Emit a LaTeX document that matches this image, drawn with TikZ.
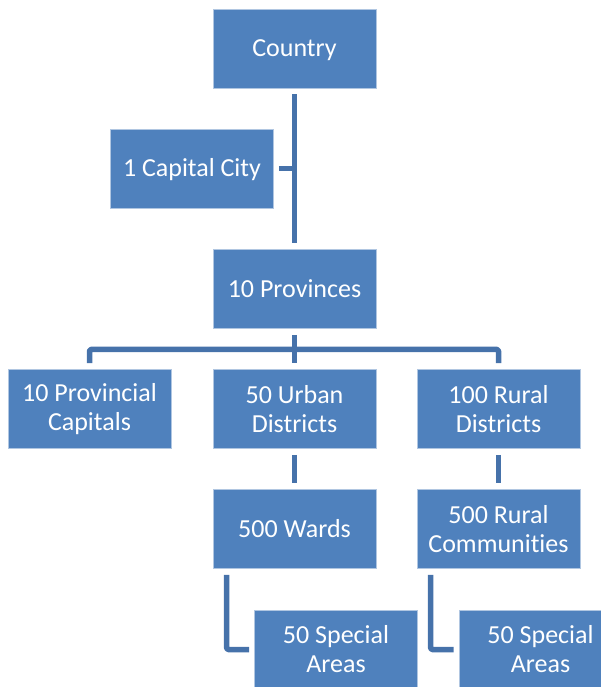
\documentclass[tikz,border=0pt]{standalone}
\usepackage{fontspec}
\setmainfont[Ligatures=CommonOff]{Carlito}
\usetikzlibrary{calc}
\definecolor{boxblue}{HTML}{4F81BD}
\definecolor{linkblue}{HTML}{4672AA}
\tikzset{
  unit/.style={draw=white!55!boxblue, line width=0.8pt, fill=boxblue,
    minimum width=163pt, minimum height=79pt, inner sep=0pt,
    text=white, align=center, font=\fontsize{26}{29}\selectfont},
  oneline/.style={text height=16.5pt, text depth=0pt},
  link/.style={draw=linkblue, line width=5.5pt, line join=round, rounded corners=1.5pt}
}
\begin{document}
\begin{tikzpicture}[x=1pt,y=-1pt]
  \useasboundingbox (0,0) rectangle (601,687);
  \clip (0,0) rectangle (601,687);
  % boxes
  \node[unit,oneline] (country)   at (294.5,48.5)  {Country};
  \node[unit,oneline] (capital)   at (192,168.5)   {1 Capital City};
  \node[unit,oneline] (provinces) at (294.5,289)   {10 Provinces};
  \node[unit] (provcap)   at (89.5,409)    {10 Provincial\\Capitals};
  \node[unit] (urban)     at (294.5,409)   {50 Urban\\Districts};
  \node[unit] (rural)     at (498.5,409)   {100 Rural\\Districts};
  \node[unit,oneline] (wards)     at (294.5,529)   {500 Wards};
  \node[unit] (ruralcom)  at (498.5,529)   {500 Rural\\Communities};
  \node[unit] (specA)     at (336,649.5)   {50 Special\\Areas};
  \node[unit] (specB)     at (540.5,649.5) {50 Special\\Areas};
  % connectors
  \draw[link] ($(country.south)+(0,6)$) -- ($(provinces.north)+(0,-6)$);
  \draw[link] ($(capital.east)+(5,0)$) -- (capital.east -| country.south);
  \draw[link] ($(provinces.south)+(0,6)$) -- ($(provinces.south)+(0,20.5)$);
  \draw[link] ($(provcap.north)+(0,-6)$) |- ($(provinces.south)+(0,20.5)$)
              -| ($(rural.north)+(0,-6)$);
  \draw[link] ($(provinces.south)+(0,20.5)$) -- ($(urban.north)+(0,-6)$);
  \draw[link] ($(urban.south)+(0,6)$) -- ($(wards.north)+(0,-6)$);
  \draw[link] ($(rural.south)+(0,6)$) -- ($(ruralcom.north)+(0,-6)$);
  \draw[link] ($(wards.south west)+(14,6)$) |- ($(specA.west)+(-5,0)$);
  \draw[link] ($(ruralcom.south west)+(14,6)$) |- ($(specB.west)+(-5,0)$);
\end{tikzpicture}
\end{document}
